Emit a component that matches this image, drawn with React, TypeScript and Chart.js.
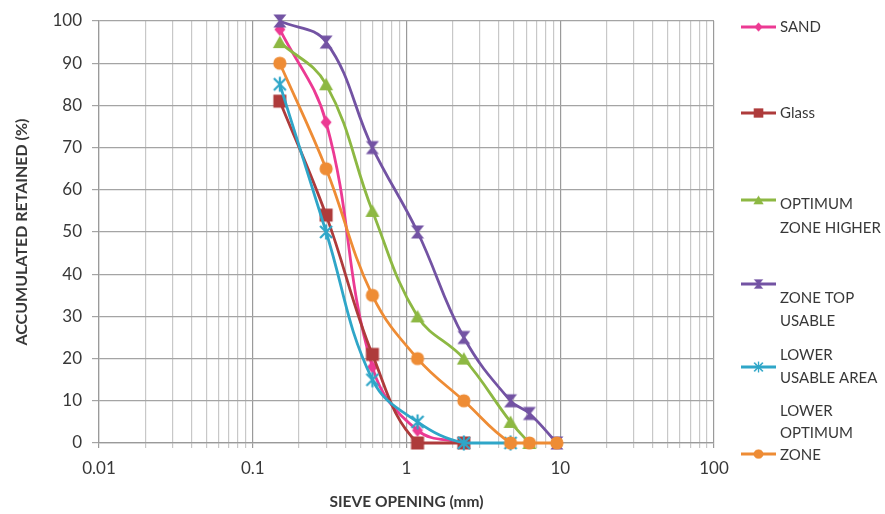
import React, { useEffect, useRef } from 'react';
import { Chart, registerables } from 'chart.js';

Chart.register(...registerables);

// ---- data ----
const sieveSizes = [0.15, 0.3, 0.6, 1.18, 2.36, 4.75, 6.3, 9.5];
const sand = [98, 76, 18, 3, 0, null, null, null];
const glass = [81, 54, 21, 0, 0, null, null, null];
const optimumZoneHigher = [95, 85, 55, 30, 20, 5, 0, null];
const zoneTopUsable = [100, 95, 70, 50, 25, 10, 7, 0];
const lowerUsableArea = [85, 50, 15, 5, 0, 0, null, null];
const lowerOptimumZone = [90, 65, 35, 20, 10, 0, 0, 0];
const xDecadeLabels = ['0.01', '0.1', '1', '10', '100'];
const yTickValues = [0, 10, 20, 30, 40, 50, 60, 70, 80, 90, 100];

const FONT = 'Lato, "Open Sans", "Liberation Sans", sans-serif';
const TEXT = '#383838';

type Marker = 'diamond' | 'square' | 'triangle' | 'hourglass' | 'star' | 'circle';

const series: { label: string; lines: string[]; data: (number | null)[]; color: string; marker: Marker }[] = [
  { label: 'SAND', lines: ['SAND'], data: sand, color: '#EC3A93', marker: 'diamond' },
  { label: 'Glass', lines: ['Glass'], data: glass, color: '#AE3B3B', marker: 'square' },
  { label: 'OPTIMUM ZONE HIGHER', lines: ['OPTIMUM', 'ZONE HIGHER'], data: optimumZoneHigher, color: '#8DB843', marker: 'triangle' },
  { label: 'ZONE TOP USABLE', lines: ['ZONE TOP', 'USABLE'], data: zoneTopUsable, color: '#7353A3', marker: 'hourglass' },
  { label: 'LOWER USABLE AREA', lines: ['LOWER', 'USABLE AREA'], data: lowerUsableArea, color: '#2FA6C8', marker: 'star' },
  { label: 'LOWER OPTIMUM ZONE', lines: ['LOWER', 'OPTIMUM', 'ZONE'], data: lowerOptimumZone, color: '#EE8C35', marker: 'circle' },
];

// legend layout (line y, text line y's)
const legendLayout = [
  { lineY: 27, textY: [27] },
  { lineY: 113, textY: [113] },
  { lineY: 200, textY: [204, 228] },
  { lineY: 284, textY: [298, 321] },
  { lineY: 367, textY: [355, 378] },
  { lineY: 454, textY: [411, 433, 455] },
];

function makeMarker(style: Marker, color: string): HTMLCanvasElement {
  const s = 18;
  const c = document.createElement('canvas');
  c.width = s;
  c.height = s;
  const g = c.getContext('2d')!;
  const m = s / 2;
  g.fillStyle = color;
  g.strokeStyle = color;
  g.lineWidth = 2.2;
  g.beginPath();
  switch (style) {
    case 'diamond':
      g.moveTo(m, m - 6.5);
      g.lineTo(m + 5.5, m);
      g.lineTo(m, m + 6.5);
      g.lineTo(m - 5.5, m);
      g.closePath();
      g.fill();
      break;
    case 'square':
      g.fillRect(m - 6.5, m - 6.5, 13, 13);
      break;
    case 'triangle':
      g.moveTo(m, m - 6.5);
      g.lineTo(m + 7, m + 6);
      g.lineTo(m - 7, m + 6);
      g.closePath();
      g.fill();
      break;
    case 'hourglass':
      g.moveTo(m - 6.5, m - 6.5);
      g.lineTo(m + 6.5, m - 6.5);
      g.lineTo(m + 1.3, m);
      g.lineTo(m + 6.5, m + 6.5);
      g.lineTo(m - 6.5, m + 6.5);
      g.lineTo(m - 1.3, m);
      g.closePath();
      g.fill();
      break;
    case 'star':
      g.moveTo(m - 6, m - 6);
      g.lineTo(m + 6, m + 6);
      g.moveTo(m + 6, m - 6);
      g.lineTo(m - 6, m + 6);
      g.moveTo(m, m - 7.5);
      g.lineTo(m, m + 7.5);
      g.stroke();
      break;
    case 'circle':
      g.arc(m, m, 6.6, 0, Math.PI * 2);
      g.fill();
      break;
  }
  return c;
}

function buildLogTicks(min: number, max: number) {
  const ticks: { value: number; major: boolean }[] = [];
  const e0 = Math.round(Math.log10(min));
  const e1 = Math.round(Math.log10(max));
  for (let e = e0; e < e1; e++) {
    for (let k = 1; k <= 9; k++) {
      ticks.push({ value: Number((k * Math.pow(10, e)).toPrecision(6)), major: k === 1 });
    }
  }
  ticks.push({ value: max, major: true });
  return ticks;
}

function isDecade(v: number) {
  const l = Math.log10(v);
  return Math.abs(l - Math.round(l)) < 1e-6;
}

export default function App() {
  const ref = useRef<HTMLCanvasElement | null>(null);

  useEffect(() => {
    if (!ref.current) return;
    const markers = series.map((s) => makeMarker(s.marker, s.color));

    const legendPlugin = {
      id: 'customLegend',
      afterDraw(chart: any) {
        const ctx = chart.ctx as CanvasRenderingContext2D;
        ctx.save();
        ctx.font = `15px ${FONT}`;
        ctx.fillStyle = TEXT;
        ctx.textBaseline = 'middle';
        ctx.textAlign = 'left';
        series.forEach((s, i) => {
          const lay = legendLayout[i];
          ctx.strokeStyle = s.color;
          ctx.lineWidth = 2.8;
          ctx.beginPath();
          ctx.moveTo(741, lay.lineY);
          ctx.lineTo(776, lay.lineY);
          ctx.stroke();
          const mk = markers[i];
          const sz = 13;
          ctx.drawImage(mk, 758.5 - sz / 2, lay.lineY - sz / 2, sz, sz);
          s.lines.forEach((t, j) => {
            ctx.fillText(t, 780, lay.textY[j]);
          });
        });
        ctx.restore();
      },
    };

    const chart = new Chart(ref.current, {
      type: 'line',
      data: {
        datasets: series.map((s, i) => ({
          label: s.label,
          data: sieveSizes
            .map((x, j) => ({ x, y: s.data[j] }))
            .filter((p) => p.y !== null) as any,
          borderColor: s.color,
          backgroundColor: s.color,
          borderWidth: 2.8,
          tension: 0.4,
          pointStyle: markers[i] as any,
          pointRadius: 6,
          pointHoverRadius: 6,
          clip: false as any,
          order: series.length - i,
        })),
      },
      options: {
        animation: false,
        responsive: false,
        maintainAspectRatio: false,
        events: [],
        layout: { padding: { left: 0, right: 171, top: 21, bottom: 0 } },
        plugins: {
          legend: { display: false },
          tooltip: { enabled: false },
        },
        scales: {
          x: {
            type: 'logarithmic',
            min: 0.01,
            max: 100,
            afterBuildTicks: (scale: any) => {
              scale.ticks = buildLogTicks(0.01, 100);
            },
            afterFit: (scale: any) => {
              scale.height = 71;
            },
            ticks: {
              autoSkip: false,
              maxRotation: 0,
              padding: 10,
              color: TEXT,
              font: { family: FONT, size: 17 },
              callback: (value: any) => {
                const v = Number(value);
                if (!isDecade(v)) return '';
                const idx = Math.round(Math.log10(v)) + 2;
                return xDecadeLabels[idx] ?? '';
              },
            },
            grid: {
              color: (ctx: any) => (ctx.tick && isDecade(ctx.tick.value) ? '#9A9A9A' : '#C8C8C8'),
              lineWidth: 1.2,
              tickLength: 5,
            },
            border: { color: '#9A9A9A', width: 1.2 },
            title: {
              display: true,
              text: 'SIEVE OPENING (mm)',
              color: TEXT,
              font: { family: FONT, size: 15.5, weight: 'bold' },
              padding: { top: 0, bottom: 3 },
            },
          },
          y: {
            type: 'linear',
            min: 0,
            max: 100,
            afterBuildTicks: (scale: any) => {
              scale.ticks = yTickValues.map((v) => ({ value: v }));
            },
            afterFit: (scale: any) => {
              scale.width = 99;
            },
            ticks: {
              padding: 10,
              color: TEXT,
              font: { family: FONT, size: 17 },
            },
            grid: {
              color: '#A4A4A4',
              lineWidth: 1.2,
              tickLength: 7,
            },
            border: { color: '#9A9A9A', width: 1.2 },
            title: {
              display: true,
              text: 'ACCUMULATED RETAINED (%)',
              color: TEXT,
              font: { family: FONT, size: 16, weight: 'bold' },
              padding: { top: 12, bottom: 0 },
            },
          },
        },
      } as any,
      plugins: [legendPlugin],
    });

    return () => chart.destroy();
  }, []);

  return (
    <div style={{ position: 'fixed', left: 0, top: 0, width: 885, height: 514, background: '#fff' }}>
      <canvas ref={ref} width={885} height={514} style={{ width: 885, height: 514, display: 'block' }} />
    </div>
  );
}
